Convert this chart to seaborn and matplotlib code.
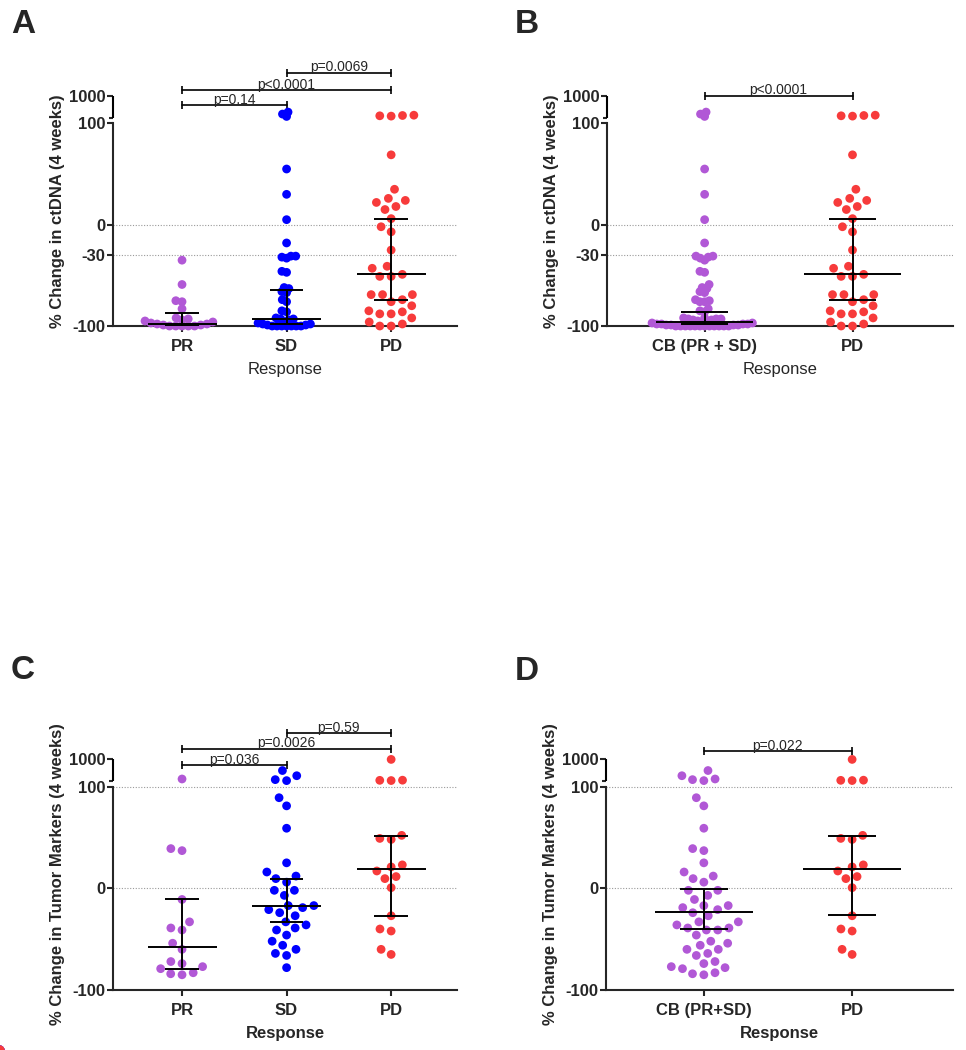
import numpy as np
import seaborn as sns
import matplotlib.pyplot as plt

# % change in ctDNA at 4 weeks
ct_pr = [-35, -59, -75, -76, -83, -92, -93, -94, -95, -96, -97, -98, -98, -99, -99,
         -100, -100, -100, -100, -100]
ct_sd = [180, 220, 260, 55, 30, 5, -18, -31, -31, -32, -33, -46, -47, -62, -63, -66, -67,
         -74, -76, -85, -86, -92, -93, -93, -94, -96, -97, -98, -98, -99, -99,
         -100, -100, -100, -100, -100, -100, -100]
ct_pd = [185, 190, 195, 200, 69, 35, 26, 24, 22, 18, 15, 6, -2, -7, -25, -41, -43, -49,
         -51, -51, -69, -69, -69, -74, -76, -80, -85, -86, -88, -88, -92, -96, -98, -100, -100]

# % change in tumor markers at 4 weeks
tm_pr = [188, 39, 37, -11, -33, -39, -41, -54, -60, -72, -74, -77, -79, -83, -84, -85]
tm_sd = [382, 247, 178, 164, 89, 81, 59, 25, 16, 12, 9.5, 6, -2, -2, -7, -17, -17, -19,
         -21, -24, -27, -33, -36, -39, -41, -46, -52, -56, -60, -64, -66, -78]
tm_pd = [970, 168, 170, 165, 48, 49, 52, 23, 21, 17, 11.5, 9.5, 0.6, -27, -42, -40, -65, -60]

# median and interquartile range bars as drawn
ct3_med, ct3_q1, ct3_q3 = [-98, -93, -49], [-100, -98, -74], [-87, -64, 6]
ct2_med, ct2_q1, ct2_q3 = [-96, -49], [-98, -74], [-86, 6]
tm3_med, tm3_q1, tm3_q3 = [-58, -17, 19], [-79, -33, -27], [-11, 9.5, 51]
tm2_med, tm2_q1, tm2_q3 = [-23, 19], [-40, -26], [-1, 51]

PURPLE = "#B158D6"
BLUE = "#0000FF"
RED = "#F73B3B"

# broken axis: linear -100..100, compressed log segment 100..1000
K = 27.0
BREAK = 160


def fwd(y):
    y = np.asarray(y, dtype=float)
    return np.where(y <= 100, y, 100 + K * np.log10(np.maximum(y, 100) / 100))


def inv(u):
    u = np.asarray(u, dtype=float)
    return np.where(u <= 100, u, 100 * 10 ** ((np.maximum(u, 100) - 100) / K))


sns.set_style("white")
plt.rcParams["font.family"] = ["Liberation Sans", "DejaVu Sans"]

fig = plt.figure(figsize=(9.66, 10.5), dpi=100)


def panel(rect, names, groups, colors, gaps, med, q1, q3, ylabel, yticks, grid,
          pvals, xbold, xmax):
    ax = fig.add_axes(rect)
    # linewidth only sets the swarm spacing (edges are not drawn)
    for name, vals, col, gap in zip(names, groups, colors, gaps):
        sns.swarmplot(x=[name] * len(vals), y=vals, order=names, color=col, size=6.3,
                      linewidth=gap, edgecolor="none", clip_on=False, ax=ax)

    x = np.arange(len(names))
    kw = dict(color="black", lw=1.4, zorder=4)
    ax.hlines(med, x - 0.33, x + 0.33, **kw)
    ax.hlines(q1, x - 0.16, x + 0.16, **kw)
    ax.hlines(q3, x - 0.16, x + 0.16, **kw)
    ax.vlines(x, q1, q3, **kw)

    for g in grid:
        ax.axhline(g, color="#9a9a9a", ls=(0, (1, 1.5)), lw=0.8, zorder=0)

    ax.set_yscale("function", functions=(fwd, inv))
    ax.set_ylim(-100, 1000)
    ax.set_xlim(-0.66, xmax)
    ax.set_yticks(yticks)
    ax.set_yticklabels([str(t) for t in yticks], fontsize=12, fontweight="bold")
    ax.set_yticks([BREAK], minor=True)
    ax.set_xticks(x)
    ax.set_xticklabels(names, fontsize=12, fontweight="bold")

    sns.despine(ax=ax)
    ax.spines["left"].set_bounds(-100, 100)
    ax.spines["left"].set_linewidth(1.5)
    ax.spines["bottom"].set_linewidth(1.5)
    ax.plot([0, 0], [BREAK, 1000], transform=ax.get_yaxis_transform(), color="black",
            lw=1.5, clip_on=False, solid_capstyle="butt")
    ax.tick_params(axis="y", which="major", length=4, width=1.5, pad=1.5, left=True)
    ax.tick_params(axis="y", which="minor", length=3, width=1.5, left=True)
    ax.tick_params(axis="x", length=4, width=1.5, pad=5, bottom=True)

    ax.set_ylabel(ylabel, fontsize=12, fontweight="bold", labelpad=3)
    ax.set_xlabel("Response", fontsize=12, fontweight="bold" if xbold else "normal",
                  labelpad=6)

    tr = ax.get_xaxis_transform()
    for i, j, yy, txt in pvals:
        ax.plot([i, j], [yy, yy], transform=tr, color="black", lw=1.2, marker="|",
                ms=6, mew=1.2, clip_on=False)
        ax.annotate(txt, ((i + j) / 2, yy), xycoords=tr, xytext=(0, 1),
                    textcoords="offset points", ha="center", va="baseline", fontsize=10)
    return ax


ct_ticks = [-100, -30, 0, 100, 1000]
tm_ticks = [-100, 0, 100, 1000]

panel([0.1170, 0.6895, 0.3561, 0.2190], ["PR", "SD", "PD"], [ct_pr, ct_sd, ct_pd],
      [PURPLE, BLUE, RED], [-2, -3, 1.5], ct3_med, ct3_q1, ct3_q3,
      "% Change in ctDNA (4 weeks)", ct_ticks, [0, -30],
      [(0, 1, 0.961, "p=0.14"), (0, 2, 1.026, "p<0.0001"), (1, 2, 1.101, "p=0.0069")],
      False, 2.63)

panel([0.6284, 0.6895, 0.3582, 0.2190], ["CB (PR + SD)", "PD"], [ct_pr + ct_sd, ct_pd],
      [PURPLE, RED], [-3, 1.5], ct2_med, ct2_q1, ct2_q3,
      "% Change in ctDNA (4 weeks)", ct_ticks, [0, -30],
      [(0, 1, 1.001, "p<0.0001")], False, 1.68)

panel([0.1170, 0.0571, 0.3561, 0.2200], ["PR", "SD", "PD"], [tm_pr, tm_sd, tm_pd],
      [PURPLE, BLUE, RED], [1.5, 1.5, 1.5], tm3_med, tm3_q1, tm3_q3,
      "% Change in Tumor Markers (4 weeks)", tm_ticks, [0, 100],
      [(0, 1, 0.974, "p=0.036"), (0, 2, 1.045, "p=0.0026"), (1, 2, 1.113, "p=0.59")],
      True, 2.63)

panel([0.6273, 0.0571, 0.3592, 0.2200], ["CB (PR+SD)", "PD"], [tm_pr + tm_sd, tm_pd],
      [PURPLE, RED], [1.5, 1.5], tm2_med, tm2_q1, tm2_q3,
      "% Change in Tumor Markers (4 weeks)", tm_ticks, [0, 100],
      [(0, 1, 1.035, "p=0.022")], True, 1.68)

for letter, lx, ly in [("A", 11, 33), ("B", 515, 33), ("C", 11, 679), ("D", 515, 680)]:
    fig.text(lx / 966, 1 - ly / 1050, letter, fontsize=24, fontweight="bold",
             ha="left", va="baseline")

fig.savefig("out.png", dpi=100)
